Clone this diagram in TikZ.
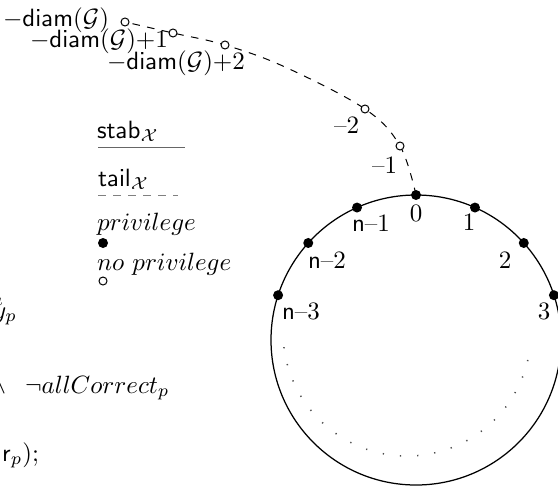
\documentclass[tikz,border=0pt]{standalone}
\usepackage{amssymb}
\begin{document}
\begin{tikzpicture}[x=0.4pt,y=-0.4pt,
  lbl/.style={inner sep=0pt,outer sep=0pt},
  fdot/.style={circle,fill=black,inner sep=0pt,minimum size=4.0pt},
  odot/.style={circle,draw=black,fill=white,inner sep=0pt,minimum size=3.2pt,line width=0.4pt},
  ringline/.style={line width=0.5pt},
  tailline/.style={dashed,line width=0.4pt},
  legline/.style={line width=0.4pt,draw=black!60},
  legdash/.style={dashed,line width=0.4pt,draw=black!50},
  dotarc/.style={line width=0.6pt,draw=black!70,dash pattern=on 0.5pt off 6.4pt}]
\useasboundingbox (0,0) rectangle (558,486);
\clip (0,0) rectangle (558,486);

% ring
\coordinate (c) at (416,340);
\draw[ringline] (c) circle[radius=145];
\foreach \a/\n in {-90/p0,-66/p1,-42/p2,-18/p3,-114/pn1,-138/pn2,-162/pn3}
  \path (c) ++(\a:145) node[fdot] (\n) {};

% ring labels
\node[lbl] (l0) at (416,213) {$0$};
\node[lbl] (l1) at (469,222) {$1$};
\node[lbl] (l2) at (505,260) {$2$};
\node[lbl] (l3) at (544,311) {$3$};
\node[lbl] (ln1) at (371,223) {\textsf{n}--1};
\node[lbl] (ln2) at (327,260) {\textsf{n}--2};
\node[lbl] (ln3) at (301,311) {\textsf{n}--3};

% dotted inner arc
\coordinate (ic) at (407,332);
\draw[dotarc] (ic) ++(173:124) arc[start angle=173,end angle=6,radius=124];

% tail path
\coordinate (q1) at (400,146);
\coordinate (q2) at (365,109);
\coordinate (k) at (285,67);
\coordinate (d2) at (225,45);
\coordinate (d1) at (173,33);
\coordinate (d0) at (125,22);
\draw[tailline] plot[smooth,tension=0.6] coordinates {(p0) (q1) (q2) (k) (d2) (d1) (d0)};
\foreach \n in {q1,q2,d2,d1,d0}
  \node[odot] (o\n) at (\n) {};

% tail labels
\node[lbl,anchor=base west] (t0) at (3,27) {$-\mathsf{diam}(\mathcal{G})$};
\node[lbl,anchor=base west] (t1) at (30,48) {$-\mathsf{diam}(\mathcal{G}){+}1$};
\node[lbl,anchor=base west] (t2) at (107,70) {$-\mathsf{diam}(\mathcal{G}){+}2$};
\node[lbl,anchor=base west] (tm2) at (334,133) {--2};
\node[lbl,anchor=base west] (tm1) at (372,173) {--1};

% legend
\node[lbl,anchor=base west] (stab) at (97,138) {$\mathsf{stab}_{\mathcal{X}}$};
\coordinate (sa) at (98,147);
\coordinate (sb) at (185,147);
\draw[legline] (sa) -- (sb);
\node[lbl,anchor=base west] (tail) at (98,186) {$\mathsf{tail}_{\mathcal{X}}$};
\coordinate (ta) at (98,195);
\coordinate (tb) at (178,195);
\draw[legdash] (ta) -- (tb);
\node[lbl,anchor=base west] (priv) at (97,230) {$privilege$};
\node[fdot] (pd) at (103,243) {};
\node[lbl,anchor=base west] (npriv) at (97,270) {$no~privilege$};
\node[odot] (nd) at (103,281) {};

% clipped text at left edge
\node[lbl,anchor=base east] (x0) at (3,305) {$\scriptstyle a$};
\node[lbl,anchor=base east] (x1) at (17,318) {$y_{p}$};
\node[lbl,anchor=base east] (x2) at (6,393) {$\wedge$};
\node[lbl,anchor=base west] (x3) at (25,393) {$\neg allCorrect_p$};
\node[lbl,anchor=base east] (x4) at (39,461) {$\mathsf{r}_p)$;};
\end{tikzpicture}
\end{document}
